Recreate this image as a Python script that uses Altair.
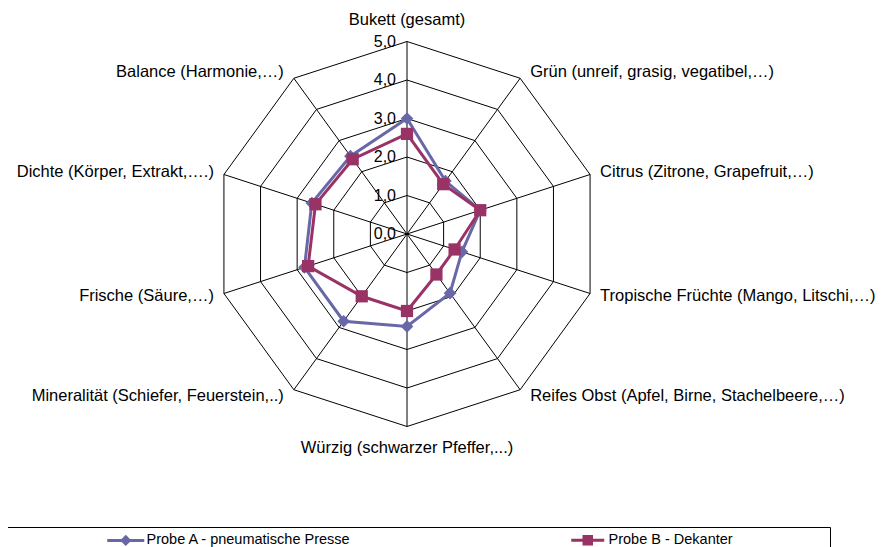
import altair as alt
import pandas as pd

# ---------------- data ----------------
categories = [
    "Bukett (gesamt)",
    "Grün (unreif, grasig, vegatibel,…)",
    "Citrus (Zitrone, Grapefruit,…)",
    "Tropische Früchte (Mango, Litschi,…)",
    "Reifes Obst (Apfel, Birne, Stachelbeere,…)",
    "Würzig (schwarzer Pfeffer,...)",
    "Mineralität (Schiefer, Feuerstein,..)",
    "Frische (Säure,…)",
    "Dichte (Körper, Extrakt,….)",
    "Balance (Harmonie,…)",
]
probe_a = [3.0, 1.7, 2.0, 1.5, 1.9, 2.4, 2.8, 2.8, 2.6, 2.5]
probe_b = [2.6, 1.6, 2.0, 1.3, 1.3, 2.0, 2.0, 2.7, 2.5, 2.4]
series_names = ["Probe A - pneumatische Presse", "Probe B - Dekanter"]
tick_levels = [0, 1, 2, 3, 4, 5]
tick_labels = ["0,0", "1,0", "2,0", "3,0", "4,0", "5,0"]
ring_levels = [1, 2, 3, 4, 5]
max_level = 5

colors = ["#6868A8", "#993366"]

n = len(categories)

# ---------------- tables ----------------
rows = []
for s, vals in zip(series_names, [probe_a, probe_b]):
    for i in range(n + 1):
        rows.append({"series": s, "idx": i, "value": vals[i % n]})
series_df = pd.DataFrame(rows)

ring_df = pd.DataFrame(
    [{"level": lv, "idx": i} for lv in ring_levels for i in range(n + 1)]
)
spoke_df = pd.DataFrame(
    [{"idx": i, "r": r} for i in range(n) for r in (0, max_level)]
)
cat_df = pd.DataFrame([{"idx": i, "cat": c} for i, c in enumerate(categories)])
tick_df = pd.DataFrame({"level": tick_levels, "label": tick_labels})

# ---------------- geometry (scales) ----------------
W, H = 870, 539
CX, CY = 399, 226          # centre of the radar in chart pixels
PX = 38.5                  # pixels per unit
xdom = [-CX / PX, (W - CX) / PX]
ydom = [-(H - CY) / PX, CY / PX]
xs = alt.Scale(domain=xdom, nice=False, zero=False)
ys = alt.Scale(domain=ydom, nice=False, zero=False)

ANG = f"datum.idx * 2 * PI / {n}"
FONT = "Liberation Sans"


def X(f):
    return alt.X(f, type="quantitative", scale=xs, axis=None)


def Y(f):
    return alt.Y(f, type="quantitative", scale=ys, axis=None)


rings = alt.Chart(ring_df).transform_calculate(
    x=f"datum.level * sin({ANG})", y=f"datum.level * cos({ANG})"
).mark_line(color="black", strokeWidth=1).encode(
    x=X("x"), y=Y("y"), detail="level:N", order="idx:Q"
)

spokes = alt.Chart(spoke_df).transform_calculate(
    x=f"datum.r * sin({ANG})", y=f"datum.r * cos({ANG})"
).mark_line(color="black", strokeWidth=1).encode(
    x=X("x"), y=Y("y"), detail="idx:N", order="r:Q"
)

ticks = alt.Chart(tick_df).transform_calculate(x0="0").mark_text(
    align="right", baseline="middle", dx=-11, font=FONT, fontSize=16, color="black"
).encode(x=X("x0"), y=Y("level"), text="label:N")

lab_base = alt.Chart(cat_df).transform_calculate(
    s=f"sin({ANG})", c=f"cos({ANG})"
).transform_calculate(
    lx=f"{max_level} * datum.s + (datum.s > 0.01 ? 0.26 : (datum.s < -0.01 ? -0.26 : 0))",
    ly=f"{max_level} * datum.c + (abs(datum.c) > 0.99 ? 0.55 * (datum.c > 0 ? 1 : -1) : 0.2 * datum.c)",
)
lab_enc = dict(x=X("lx"), y=Y("ly"), text="cat:N")
lab_left = lab_base.transform_filter("datum.s > 0.01").mark_text(
    align="left", baseline="middle", font=FONT, fontSize=16.5, color="black"
).encode(**lab_enc)
lab_right = lab_base.transform_filter("datum.s < -0.01").mark_text(
    align="right", baseline="middle", font=FONT, fontSize=16.5, color="black"
).encode(**lab_enc)
lab_center = lab_base.transform_filter("abs(datum.s) <= 0.01").mark_text(
    align="center", baseline="middle", font=FONT, fontSize=16.5, color="black"
).encode(**lab_enc)

ser_base = alt.Chart(series_df).transform_calculate(
    x=f"datum.value * sin({ANG})", y=f"datum.value * cos({ANG})"
)

layers = []
shapes = ["diamond", "square"]
sizes = [160, 150]
for s, col, shp, sz in zip(series_names, colors, shapes, sizes):
    sub = ser_base.transform_filter(alt.datum.series == s)
    layers.append(sub.mark_line(color=col, strokeWidth=3).encode(
        x=X("x"), y=Y("y"), order="idx:Q"))
    layers.append(sub.transform_filter("datum.idx < %d" % n).mark_point(
        shape=shp, filled=True, color=col, size=sz, opacity=1).encode(
        x=X("x"), y=Y("y")))

# legend carrier (invisible marks, real legend)
legend_paths = [
    "M-3.7,0H3.7M0,-0.7L0.7,0L0,0.7L-0.7,0Z",
    "M-3.3,0H3.3M-0.75,-0.75H0.75V0.75H-0.75Z",
]
leg = alt.Legend(
    title=None, orient="none", direction="horizontal",
    legendX=110.5, legendY=525, padding=0,
    symbolSize=100, symbolStrokeWidth=3, symbolOpacity=1,
    labelOffset=13.5, columnPadding=213, labelLimit=400,
    labelFont=FONT, labelFontSize=14.5, labelColor="black",
)
cscale = alt.Scale(domain=series_names, range=colors)
carrier = ser_base.transform_filter("datum.idx == 0").mark_point(
    opacity=0
).encode(
    x=X("x"), y=Y("y"),
    fill=alt.Fill("series:N", scale=cscale, legend=leg),
    stroke=alt.Stroke("series:N", scale=cscale, legend=leg),
    shape=alt.Shape("series:N", scale=alt.Scale(domain=series_names, range=legend_paths),
                    legend=leg),
)

# legend frame (left and bottom edges lie outside the picture, as in the original)
frame = alt.Chart(cat_df).transform_filter("datum.idx == 0").mark_rect(
    fill=None, stroke="black", strokeWidth=1
).encode(x=alt.value(-9), x2=alt.value(822.5), y=alt.value(519.5), y2=alt.value(560))

chart = alt.layer(
    rings, spokes, ticks, lab_left, lab_right, lab_center, *layers, carrier, frame
).properties(
    width=W, height=H, padding=0, autosize=alt.AutoSizeParams(type="none"),
    background="white",
).configure_view(stroke=None)

chart.save("out.html", embed_options={"renderer": "svg", "actions": False})
